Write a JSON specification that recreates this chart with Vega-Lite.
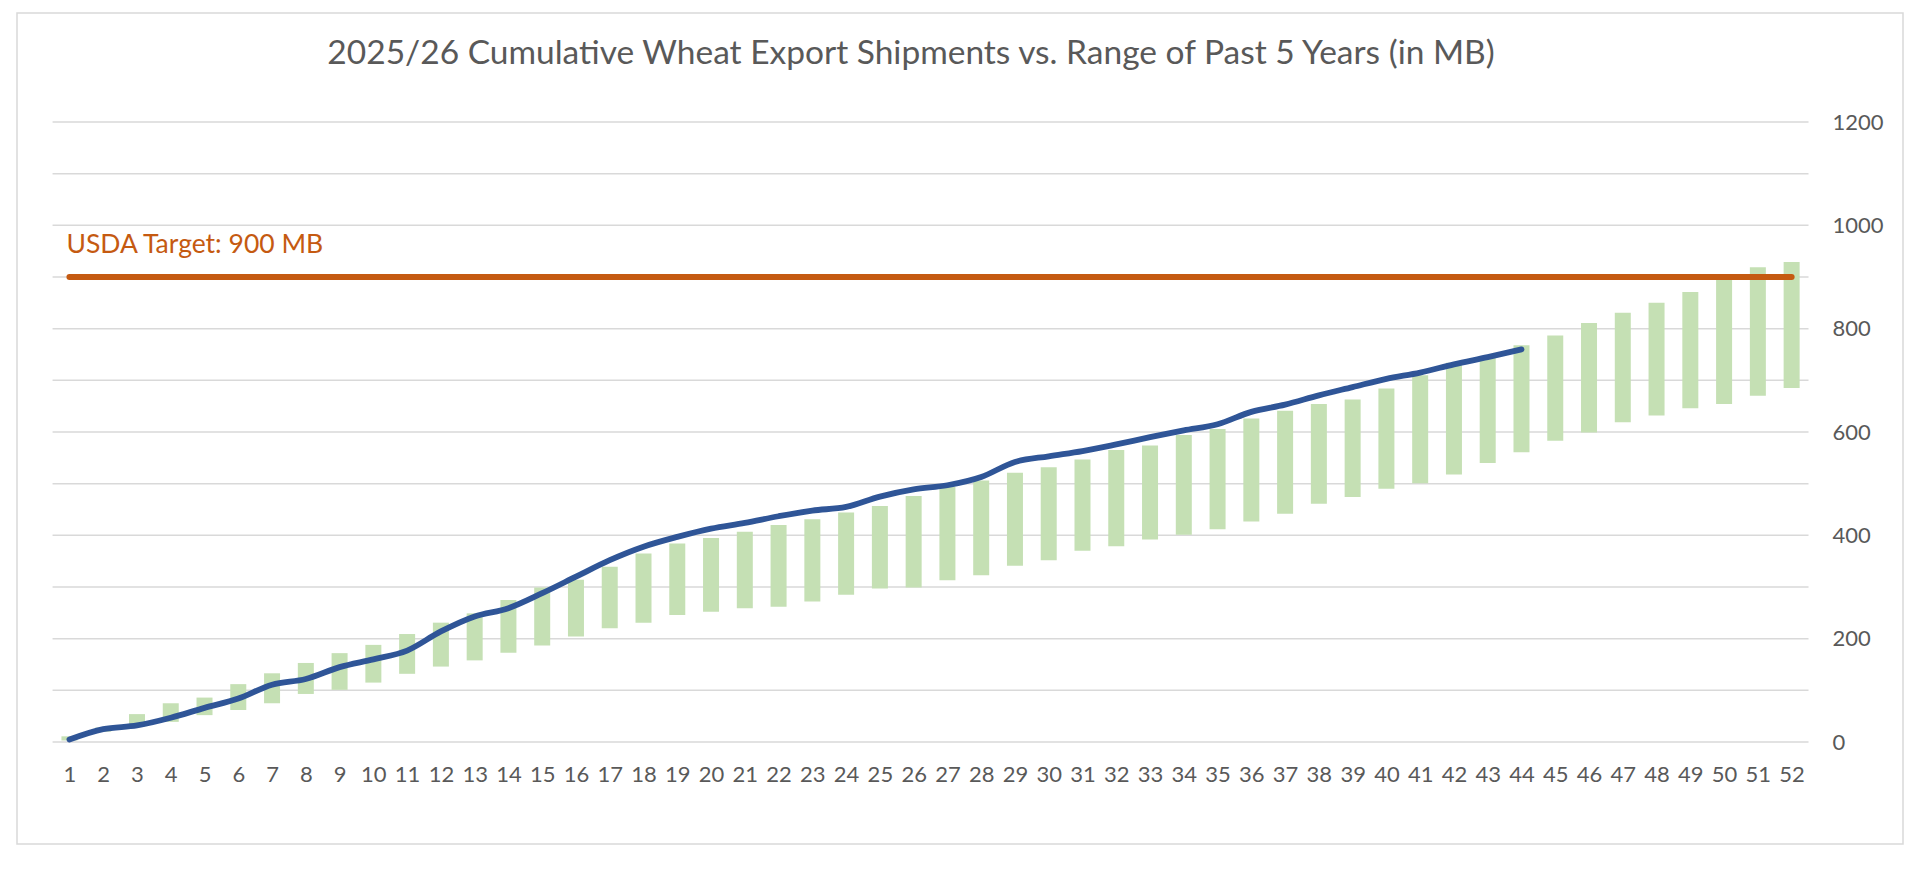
{
  "$schema": "https://vega.github.io/schema/vega-lite/v6.json",
  "width": 1886,
  "height": 831,
  "autosize": {"type": "none"},
  "padding": {"left": 17, "top": 13, "right": 17, "bottom": 25},
  "background": "white",
  "title": {
    "text": "2025/26 Cumulative Wheat Export Shipments vs. Range of Past 5 Years (in MB)",
    "font": "Lato",
    "fontSize": 33.5,
    "fontWeight": "normal",
    "color": "#595959",
    "anchor": "middle",
    "frame": "group",
    "dx": -49,
    "offset": -84,
    "baseline": "alphabetic"
  },
  "config": {
    "view": {"stroke": "#d9d9d9", "strokeWidth": 1.5},
    "axis": {"labelFont": "Lato", "labelColor": "#595959", "labelFontSize": 22, "domain": false, "ticks": false, "tickSize": 0, "grid": false, "labelPadding": 0, "labelOverlap": false, "labelFlush": false, "labelBound": false, "labelSeparation": 0}
  },
  "data": {
    "values": [
      {"week": 1, "low": 3, "high": 11, "cur": 5},
      {"week": 2, "low": 20, "high": 28, "cur": 25},
      {"week": 3, "low": 30, "high": 54, "cur": 32},
      {"week": 4, "low": 39, "high": 75, "cur": 47},
      {"week": 5, "low": 52, "high": 86, "cur": 66},
      {"week": 6, "low": 62, "high": 112, "cur": 84},
      {"week": 7, "low": 75, "high": 133, "cur": 111},
      {"week": 8, "low": 93, "high": 153, "cur": 122},
      {"week": 9, "low": 101, "high": 172, "cur": 145},
      {"week": 10, "low": 115, "high": 188, "cur": 160},
      {"week": 11, "low": 132, "high": 209, "cur": 177},
      {"week": 12, "low": 146, "high": 231, "cur": 214},
      {"week": 13, "low": 158, "high": 249, "cur": 243},
      {"week": 14, "low": 173, "high": 275, "cur": 259},
      {"week": 15, "low": 187, "high": 299, "cur": 288},
      {"week": 16, "low": 204, "high": 314, "cur": 320},
      {"week": 17, "low": 220, "high": 339, "cur": 352},
      {"week": 18, "low": 231, "high": 365, "cur": 378},
      {"week": 19, "low": 246, "high": 384, "cur": 397},
      {"week": 20, "low": 252, "high": 395, "cur": 413},
      {"week": 21, "low": 259, "high": 407, "cur": 424},
      {"week": 22, "low": 262, "high": 420, "cur": 437},
      {"week": 23, "low": 272, "high": 431, "cur": 448},
      {"week": 24, "low": 285, "high": 444, "cur": 455},
      {"week": 25, "low": 297, "high": 457, "cur": 475},
      {"week": 26, "low": 299, "high": 476, "cur": 489},
      {"week": 27, "low": 313, "high": 494, "cur": 497},
      {"week": 28, "low": 323, "high": 506, "cur": 513},
      {"week": 29, "low": 341, "high": 521, "cur": 542},
      {"week": 30, "low": 352, "high": 532, "cur": 553},
      {"week": 31, "low": 370, "high": 547, "cur": 563},
      {"week": 32, "low": 379, "high": 565, "cur": 576},
      {"week": 33, "low": 392, "high": 574, "cur": 590},
      {"week": 34, "low": 401, "high": 594, "cur": 603},
      {"week": 35, "low": 412, "high": 606, "cur": 615},
      {"week": 36, "low": 427, "high": 626, "cur": 639},
      {"week": 37, "low": 442, "high": 641, "cur": 653},
      {"week": 38, "low": 461, "high": 654, "cur": 671},
      {"week": 39, "low": 474, "high": 663, "cur": 687},
      {"week": 40, "low": 490, "high": 684, "cur": 703},
      {"week": 41, "low": 501, "high": 710, "cur": 715},
      {"week": 42, "low": 518, "high": 734, "cur": 731},
      {"week": 43, "low": 540, "high": 747, "cur": 745},
      {"week": 44, "low": 561, "high": 768, "cur": 760},
      {"week": 45, "low": 583, "high": 787},
      {"week": 46, "low": 599, "high": 811},
      {"week": 47, "low": 619, "high": 831},
      {"week": 48, "low": 632, "high": 850},
      {"week": 49, "low": 646, "high": 871},
      {"week": 50, "low": 654, "high": 898},
      {"week": 51, "low": 670, "high": 919},
      {"week": 52, "low": 685, "high": 929}
    ]
  },
  "layer": [
    {
      "data": {"values": [{"g": 0}, {"g": 100}, {"g": 200}, {"g": 300}, {"g": 400}, {"g": 500}, {"g": 600}, {"g": 700}, {"g": 800}, {"g": 900}, {"g": 1000}, {"g": 1100}, {"g": 1200}]},
      "mark": {"type": "rule", "stroke": "#d9d9d9", "strokeWidth": 1.5},
      "encoding": {
        "x": {"datum": 0.5, "type": "quantitative",
          "scale": {"domain": [-0.405, 55.15], "nice": false, "zero": false},
          "axis": {"orient": "bottom", "title": null, "values": [1,2,3,4,5,6,7,8,9,10,11,12,13,14,15,16,17,18,19,20,21,22,23,24,25,26,27,28,29,30,31,32,33,34,35,36,37,38,39,40,41,42,43,44,45,46,47,48,49,50,51,52], "format": "d", "labelBaseline": "middle", "offset": -70, "labelFlush": false, "labelOverlap": false, "labelSeparation": 0}},
        "x2": {"datum": 52.5},
        "y": {"field": "g", "type": "quantitative",
          "scale": {"domain": [-197.4, 1411], "nice": false, "zero": false},
          "axis": {"orient": "right", "title": null, "values": [0, 200, 400, 600, 800, 1000, 1200], "format": "d", "offset": -71, "labelAlign": "left", "labelFlush": false, "labelOverlap": false}}
      }
    },
    {
      "mark": {"type": "bar", "color": "#c5e0b4", "width": 16},
      "encoding": {
        "x": {"field": "week", "type": "quantitative",
          "axis": {"orient": "bottom", "title": null, "values": [1,2,3,4,5,6,7,8,9,10,11,12,13,14,15,16,17,18,19,20,21,22,23,24,25,26,27,28,29,30,31,32,33,34,35,36,37,38,39,40,41,42,43,44,45,46,47,48,49,50,51,52], "format": "d", "labelBaseline": "middle", "offset": -70, "labelFlush": false, "labelOverlap": false, "labelSeparation": 0}},
        "y": {"field": "low", "type": "quantitative",
          "axis": {"orient": "right", "title": null, "values": [0, 200, 400, 600, 800, 1000, 1200], "format": "d", "offset": -71, "labelAlign": "left", "labelFlush": false, "labelOverlap": false}},
        "y2": {"field": "high"}
      }
    },
    {
      "data": {"values": [{"target": 900}]},
      "mark": {"type": "rule", "stroke": "#c55a11", "strokeWidth": 6, "strokeCap": "round"},
      "encoding": {
        "x": {"datum": 1, "type": "quantitative",
          "axis": {"orient": "bottom", "title": null, "values": [1,2,3,4,5,6,7,8,9,10,11,12,13,14,15,16,17,18,19,20,21,22,23,24,25,26,27,28,29,30,31,32,33,34,35,36,37,38,39,40,41,42,43,44,45,46,47,48,49,50,51,52], "format": "d", "labelBaseline": "middle", "offset": -70, "labelFlush": false, "labelOverlap": false, "labelSeparation": 0}},
        "x2": {"datum": 52},
        "y": {"field": "target", "type": "quantitative",
          "axis": {"orient": "right", "title": null, "values": [0, 200, 400, 600, 800, 1000, 1200], "format": "d", "offset": -71, "labelAlign": "left", "labelFlush": false, "labelOverlap": false}}
      }
    },
    {
      "mark": {"type": "line", "color": "#2f5597", "strokeWidth": 5.8, "strokeCap": "round", "strokeJoin": "round", "interpolate": "monotone"},
      "encoding": {
        "x": {"field": "week", "type": "quantitative",
          "axis": {"orient": "bottom", "title": null, "values": [1,2,3,4,5,6,7,8,9,10,11,12,13,14,15,16,17,18,19,20,21,22,23,24,25,26,27,28,29,30,31,32,33,34,35,36,37,38,39,40,41,42,43,44,45,46,47,48,49,50,51,52], "format": "d", "labelBaseline": "middle", "offset": -70, "labelFlush": false, "labelOverlap": false, "labelSeparation": 0}},
        "y": {"field": "cur", "type": "quantitative",
          "axis": {"orient": "right", "title": null, "values": [0, 200, 400, 600, 800, 1000, 1200], "format": "d", "offset": -71, "labelAlign": "left", "labelFlush": false, "labelOverlap": false}}
      }
    },
    {
      "data": {"values": [{"label": "USDA Target: 900 MB"}]},
      "mark": {"type": "text", "align": "left", "baseline": "alphabetic", "dx": -3, "dy": -24, "font": "Lato", "fontSize": 26.5, "color": "#c55a11"},
      "encoding": {
        "x": {"datum": 1, "type": "quantitative",
          "axis": {"orient": "bottom", "title": null, "values": [1,2,3,4,5,6,7,8,9,10,11,12,13,14,15,16,17,18,19,20,21,22,23,24,25,26,27,28,29,30,31,32,33,34,35,36,37,38,39,40,41,42,43,44,45,46,47,48,49,50,51,52], "format": "d", "labelBaseline": "middle", "offset": -70, "labelFlush": false, "labelOverlap": false, "labelSeparation": 0}},
        "y": {"datum": 900, "type": "quantitative",
          "axis": {"orient": "right", "title": null, "values": [0, 200, 400, 600, 800, 1000, 1200], "format": "d", "offset": -71, "labelAlign": "left", "labelFlush": false, "labelOverlap": false}},
        "text": {"field": "label"}
      }
    }
  ]
}
